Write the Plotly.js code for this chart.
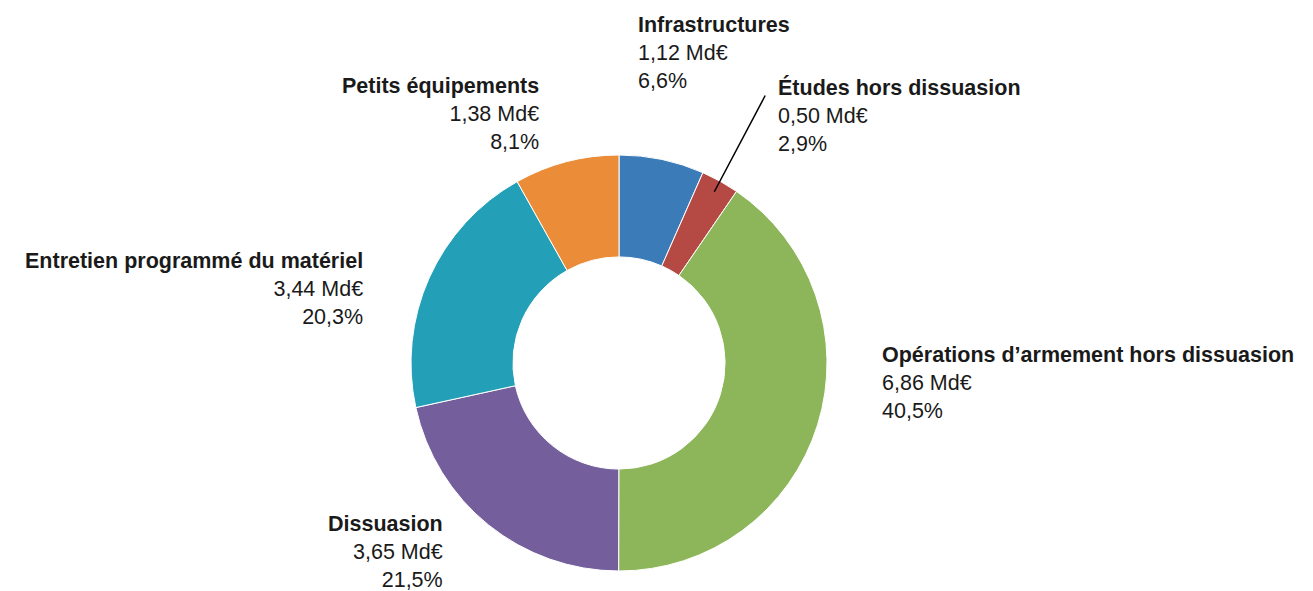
<!DOCTYPE html>
<html>
<head>
<meta charset="utf-8">
<script src="https://cdn.plot.ly/plotly-3.0.1.min.js"></script>
<style>html,body{margin:0;padding:0;background:#fff;}#chart{width:1313px;height:591px;}</style>
</head>
<body>
<div id="chart"></div>
<script>
const categories = ["Infrastructures", "Études hors dissuasion", "Opérations d’armement hors dissuasion", "Dissuasion", "Entretien programmé du matériel", "Petits équipements"];
const values = [1.12, 0.50, 6.86, 3.65, 3.44, 1.38];
const percents = ["6,6%", "2,9%", "40,5%", "21,5%", "20,3%", "8,1%"];
const colors = ["#3B7CB8", "#B54A44", "#8DB65A", "#745F9C", "#23A0B7", "#EB8C38"];

const W = 1313, H = 591;
const cx = 619, cy = 363, R = 208;
// label layout: [x px, middle-line y px, anchor]
const labelPos = [
  [636, 53, "left"],
  [776, 115, "left"],
  [880, 383, "left"],
  [445, 552, "right"],
  [365, 289, "right"],
  [541, 114, "right"]
];

function fmt(v) { return v.toFixed(2).replace(".", ",") + " Md€"; }

const trace = {
  type: "pie",
  labels: categories,
  values: values,
  hole: 0.51,
  sort: false,
  direction: "clockwise",
  rotation: 0,
  textinfo: "none",
  hoverinfo: "label+value+percent",
  marker: { colors: colors, line: { color: "#ffffff", width: 1 } },
  domain: { x: [(cx - R) / W, (cx + R) / W], y: [(H - cy - R) / H, (H - cy + R) / H] },
  showlegend: false
};

const font = { family: "Liberation Sans, Arial, sans-serif", size: 21.5, color: "#1a1a1a" };
const annotations = categories.map((c, i) => {
  const p = labelPos[i];
  return {
    xref: "paper", yref: "paper",
    x: p[0] / W, y: 1 - p[1] / H,
    xanchor: p[2], yanchor: "middle", align: p[2],
    text: "<b>" + c + "</b><br>" + fmt(values[i]) + "<br>" + percents[i],
    showarrow: false, font: font
  };
});

// leader line for the small slice (Études), from the slice mid-angle
const total = values.reduce((a, b) => a + b, 0);
const midFrac = (values[0] + values[1] / 2) / total;
const ang = midFrac * 2 * Math.PI;
const rTip = 196;
const tipX = cx + rTip * Math.sin(ang), tipY = cy - rTip * Math.cos(ang);
annotations.push({
  xref: "paper", yref: "paper",
  x: tipX / W, y: 1 - tipY / H,
  ax: 766 - tipX, ay: 94 - tipY,
  axref: "pixel", ayref: "pixel",
  showarrow: true, arrowhead: 0, arrowwidth: 1.5, arrowcolor: "#000000",
  standoff: 0, startstandoff: 0, text: ""
});

const layout = {
  width: W, height: H,
  margin: { l: 0, r: 0, t: 0, b: 0 },
  paper_bgcolor: "#ffffff",
  annotations: annotations
};

Plotly.newPlot("chart", [trace], layout, { displayModeBar: false, staticPlot: true });
</script>
</body>
</html>
